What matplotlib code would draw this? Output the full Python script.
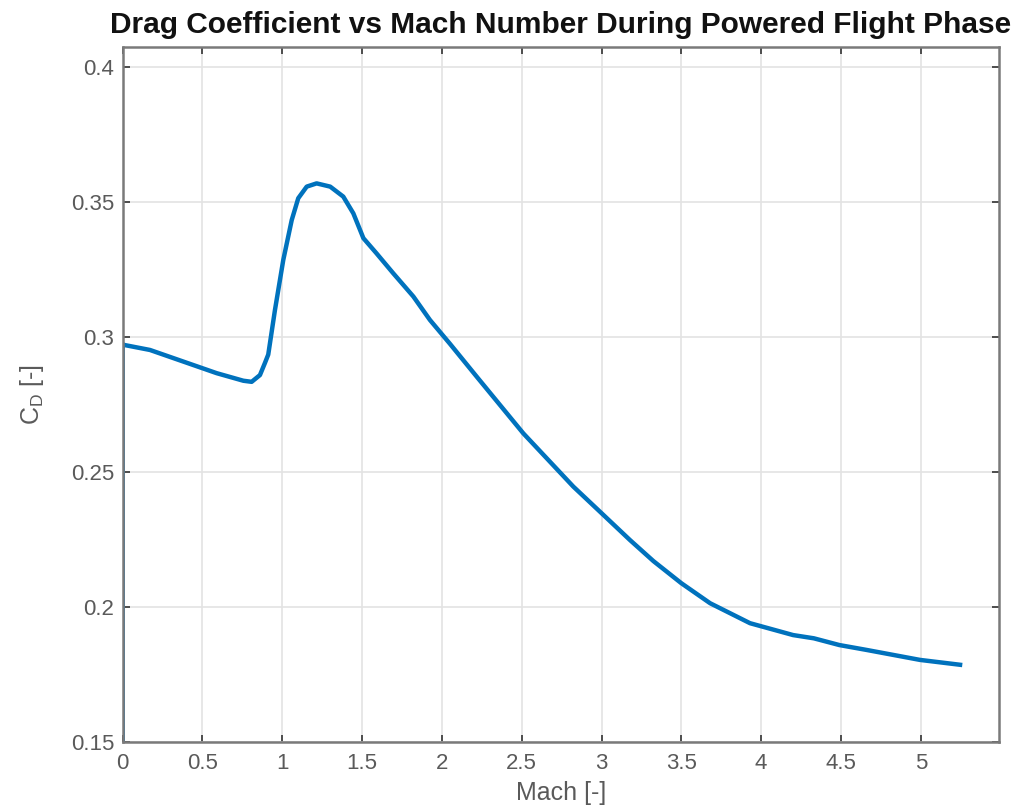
import matplotlib
matplotlib.use("Agg")
import matplotlib.pyplot as plt
import numpy as np

# Drag coefficient over the powered phase, sampled along the Mach history
mach = [0.0, 0.0, 0.014, 0.171, 0.38, 0.589, 0.756, 0.808, 0.86, 0.892,
        0.912, 0.954, 1.006, 1.059, 1.10, 1.153, 1.215, 1.30, 1.382, 1.445,
        1.508, 1.59, 1.695, 1.821, 1.925, 2.05, 2.218, 2.51, 2.823, 2.99,
        3.178, 3.325, 3.50, 3.68, 3.93, 4.20, 4.33, 4.49, 4.66, 4.995, 5.246]
cd = [0.15, 0.2973, 0.2970, 0.2952, 0.2909, 0.2866, 0.2838, 0.2834, 0.2859,
      0.2905, 0.2935, 0.3100, 0.3285, 0.3433, 0.3514, 0.3557, 0.3569, 0.3557,
      0.3520, 0.3458, 0.3366, 0.3310, 0.3236, 0.3150, 0.3063, 0.2975, 0.2853,
      0.2643, 0.2446, 0.2353, 0.2248, 0.2170, 0.2088, 0.2014, 0.1940, 0.1896,
      0.1884, 0.1859, 0.1841, 0.1804, 0.1786]

xticks = np.arange(0, 5.01, 0.5)
yticks = [0.15, 0.2, 0.25, 0.3, 0.35, 0.4]
xtick_labels = ['0', '0.5', '1', '1.5', '2', '2.5', '3', '3.5', '4', '4.5', '5']
ytick_labels = ['0.15', '0.2', '0.25', '0.3', '0.35', '0.4']

plt.rcParams['font.family'] = ['Liberation Sans', 'DejaVu Sans']
label_col = '#5a5a5a'

fig = plt.figure(figsize=(10.24, 8.11), dpi=100)
ax = fig.add_axes([0.1198, 0.0851, 0.9756 - 0.1198, 0.942 - 0.0851])

ax.plot(mach, cd, color='#0072BD', linewidth=3.2, solid_joinstyle='round')

ax.set_xlim(0, 5.49)
ax.set_ylim(0.15, 0.4074)
ax.set_xticks(xticks)
ax.set_xticklabels(xtick_labels)
ax.set_yticks(yticks)
ax.set_yticklabels(ytick_labels)

ax.grid(True, color='#e3e3e3', linewidth=1.2)
ax.set_axisbelow(True)
ax.tick_params(direction='in', length=5, width=1.3, colors='#404040',
               labelcolor=label_col, labelsize=16, top=True, right=True)
ax.tick_params(axis='x', pad=8)
ax.tick_params(axis='y', pad=6)
for sp in ax.spines.values():
    sp.set_color('#7a7a7a')
    sp.set_linewidth(1.8)

ax.set_xlabel('Mach [-]', fontsize=18, color=label_col, labelpad=5)
ax.set_ylabel('C$_\\mathregular{D}$ [-]', fontsize=18, color=label_col,
              labelpad=18)
ax.set_title('Drag Coefficient vs Mach Number During Powered Flight Phase',
             fontsize=21.5, fontweight='bold', color='#111111', pad=10)

fig.savefig('out.png', dpi=100)
